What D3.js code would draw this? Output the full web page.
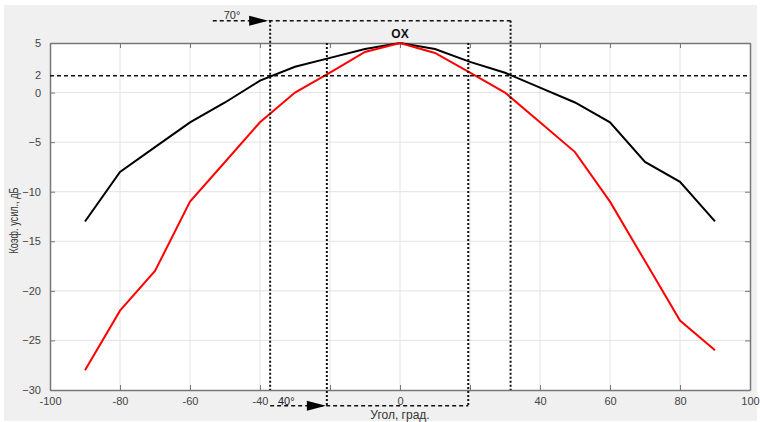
<!DOCTYPE html>
<html lang="ru">
<head>
    <meta charset="UTF-8">
    <title>OX</title>
    <script src="https://d3js.org/d3.v7.min.js"></script>
    <style>
        body { margin: 0; background: #fff; }
        text { font-family: "Liberation Sans", Arial, sans-serif; }
    </style>
</head>
<body>
    <div id="chart"></div>

    <script>
        // Angles (deg) and gain (dB) for the two curves
        var angles = [-90, -80, -70, -60, -50, -40, -30, -20, -10, 0, 10, 20, 30, 40, 50, 60, 70, 80, 90];
        var gainBlack = [-13, -8, -5.5, -3, -1, 1.2, 2.6, 3.5, 4.4, 5, 4.4, 3.1, 2, 0.5, -1, -3, -7, -9, -13];
        var gainRed = [-28, -22, -18, -11, -7, -3, 0, 2, 4.1, 5, 4, 2, 0, -3, -6, -11, -17, -23, -26];

        // Tick labels
        var xTicks = [-100, -80, -60, -40, -20, 0, 20, 40, 60, 80, 100];
        var xTickLabels = ["-100", "-80", "-60", "-40", "", "0", "", "40", "60", "80", "100"];
        var yTicks = [-30, -25, -20, -15, -10, -5, 0, 5];

        // Beamwidth annotations
        var levelValue = 1.7;       // dashed -3 dB line (labelled "2")
        var wideBeam = [-37.1, 31.6];  // 70°
        var narrowBeam = [-20.9, 19.5]; // 40°

        var width = 760, height = 422;
        var margin = { left: 50, right: 10, top: 43, bottom: 32 };

        var svg = d3.select("#chart").append("svg")
            .attr("width", width)
            .attr("height", height);

        // gray figure background
        svg.append("rect")
            .attr("x", 4).attr("y", 5)
            .attr("width", 753).attr("height", 416)
            .attr("fill", "#f0f0f0");

        var x = d3.scaleLinear().domain([-100, 100]).range([margin.left, width - margin.right]);
        var y = d3.scaleLinear().domain([-30, 5]).range([height - margin.bottom, margin.top]);

        var x0 = x(-100), x1 = x(100), y0 = y(-30), y1 = y(5);

        // plot area
        svg.append("rect")
            .attr("x", x0).attr("y", y1)
            .attr("width", x1 - x0).attr("height", y0 - y1)
            .attr("fill", "#fff");

        // grid
        svg.append("g").selectAll("line")
            .data(xTicks.slice(1, -1))
            .enter().append("line")
            .attr("x1", function(d) { return x(d); })
            .attr("x2", function(d) { return x(d); })
            .attr("y1", y1).attr("y2", y0)
            .attr("stroke", "#e3e3e3").attr("stroke-width", 1);

        svg.append("g").selectAll("line")
            .data(yTicks.slice(1, -1))
            .enter().append("line")
            .attr("x1", x0).attr("x2", x1)
            .attr("y1", function(d) { return y(d); })
            .attr("y2", function(d) { return y(d); })
            .attr("stroke", "#e3e3e3").attr("stroke-width", 1);

        // axes (ticks inside, box style)
        var xAxis = d3.axisBottom(x).tickValues(xTicks).tickSizeInner(-5).tickSizeOuter(0)
            .tickFormat(function(d, i) { return xTickLabels[i]; }).tickPadding(7);
        var gx = svg.append("g").attr("transform", "translate(0," + y0 + ")").call(xAxis);

        var xTop = d3.axisTop(x).tickValues(xTicks).tickSizeInner(-5).tickSizeOuter(0).tickFormat("");
        var gxt = svg.append("g").attr("transform", "translate(0," + y1 + ")").call(xTop);

        var yAxis = d3.axisLeft(y).tickValues(yTicks).tickSizeInner(-5).tickSizeOuter(0).tickPadding(9);
        var gy = svg.append("g").attr("transform", "translate(" + x0 + ",0)").call(yAxis);

        var yRight = d3.axisRight(y).tickValues(yTicks).tickSizeInner(-5).tickSizeOuter(0).tickFormat("");
        var gyr = svg.append("g").attr("transform", "translate(" + x1 + ",0)").call(yRight);

        [gx, gxt, gy, gyr].forEach(function(g) {
            g.select(".domain").attr("stroke", "#777").attr("stroke-width", 1.5);
            g.selectAll(".tick line").attr("stroke", "#777");
            g.selectAll(".tick text").attr("fill", "#444").style("font-size", "11px");
        });

        // extra "2" label on the y axis
        svg.append("text")
            .attr("x", x0 - 9).attr("y", y(levelValue))
            .attr("dy", "0.32em")
            .attr("text-anchor", "end")
            .attr("fill", "#444")
            .style("font-size", "11px")
            .text("2");

        // curves
        var line = d3.line()
            .x(function(d) { return x(d[0]); })
            .y(function(d) { return y(d[1]); });

        svg.append("path")
            .datum(d3.zip(angles, gainBlack))
            .attr("d", line)
            .attr("fill", "none").attr("stroke", "#000").attr("stroke-width", 2);

        svg.append("path")
            .datum(d3.zip(angles, gainRed))
            .attr("d", line)
            .attr("fill", "none").attr("stroke", "#ff0000").attr("stroke-width", 2);

        // annotations
        var ann = svg.append("g").attr("stroke", "#111").attr("fill", "none");

        // horizontal -3 dB dashed line
        ann.append("line")
            .attr("x1", x0).attr("x2", x1)
            .attr("y1", y(levelValue)).attr("y2", y(levelValue))
            .attr("stroke-width", 1.5).attr("stroke-dasharray", "4,3");

        var topY = y(7.25), botY = y(-31.6);

        // 70° wide beam verticals (from top dashed line down to axis)
        wideBeam.forEach(function(a) {
            ann.append("line")
                .attr("x1", x(a)).attr("x2", x(a))
                .attr("y1", topY).attr("y2", y0)
                .attr("stroke-width", 2).attr("stroke-dasharray", "2,2");
        });
        ann.append("line")
            .attr("x1", x(-53.5)).attr("x2", x(wideBeam[1]))
            .attr("y1", topY).attr("y2", topY)
            .attr("stroke-width", 1.5).attr("stroke-dasharray", "4,3");

        // 40° narrow beam verticals (from plot top down below axis)
        narrowBeam.forEach(function(a) {
            ann.append("line")
                .attr("x1", x(a)).attr("x2", x(a))
                .attr("y1", y1).attr("y2", botY)
                .attr("stroke-width", 2).attr("stroke-dasharray", "2,2");
        });
        ann.append("line")
            .attr("x1", x(wideBeam[0])).attr("x2", x(narrowBeam[1]))
            .attr("y1", botY).attr("y2", botY)
            .attr("stroke-width", 1.5).attr("stroke-dasharray", "4,3");

        // arrows
        function arrow(tipX, yy) {
            svg.append("path")
                .attr("d", "M" + (tipX - 19) + "," + (yy - 5) + "L" + tipX + "," + yy + "L" + (tipX - 19) + "," + (yy + 5) + "Z")
                .attr("fill", "#000");
        }
        arrow(x(wideBeam[0]) - 2, topY);
        arrow(x(narrowBeam[0]) - 1, botY);

        svg.append("text")
            .attr("x", x(-48)).attr("y", topY - 2)
            .attr("text-anchor", "middle")
            .attr("fill", "#333")
            .style("font-size", "11px")
            .text("70°");

        svg.append("text")
            .attr("x", x(-32.5)).attr("y", botY - 1)
            .attr("text-anchor", "middle")
            .attr("fill", "#223")
            .style("font-size", "11px")
            .text("40°");

        // title and axis labels
        svg.append("text")
            .attr("x", x(0)).attr("y", 38)
            .attr("text-anchor", "middle")
            .style("font-size", "12px").style("font-weight", "bold")
            .attr("fill", "#111")
            .text("OX");

        svg.append("text")
            .attr("x", x(0)).attr("y", 419)
            .attr("text-anchor", "middle")
            .style("font-size", "12px")
            .attr("fill", "#333")
            .text("Угол, град.");

        svg.append("text")
            .attr("transform", "translate(18," + ((y0 + y1) / 2 + 4) + ") rotate(-90)")
            .attr("text-anchor", "middle")
            .attr("textLength", 66)
            .attr("lengthAdjust", "spacingAndGlyphs")
            .style("font-size", "12px")
            .attr("fill", "#333")
            .text("Коэф. усил., дБ");
    </script>
</body>
</html>
